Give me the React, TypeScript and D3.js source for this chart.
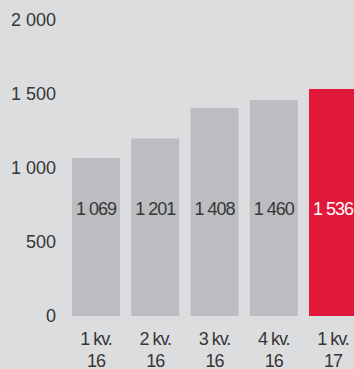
import React from "react";
import * as d3 from "d3";

const categories = ["1 kv. 16", "2 kv. 16", "3 kv. 16", "4 kv. 16", "1 kv. 17"];
const catLine1 = ["1 kv.", "2 kv.", "3 kv.", "4 kv.", "1 kv."];
const catLine2 = ["16", "16", "16", "16", "17"];
const values = [1069, 1201, 1408, 1460, 1536];
const valueLabels = ["1 069", "1 201", "1 408", "1 460", "1 536"];
const yTicks = [0, 500, 1000, 1500, 2000];
const yTickLabels = ["0", "500", "1 000", "1 500", "2 000"];
const highlight = [false, false, false, false, true];

const W = 354;
const H = 369;
const BG = "#dcdddf";
const GRAY = "#bcbdc0";
const RED = "#e1183a";
const TEXT = "#363636";
const FONT = "'Liberation Sans', Arial, Helvetica, sans-serif";

export default function App() {
  const y = d3.scaleLinear().domain([0, 2000]).range([316, 20.4]);
  const x = d3
    .scaleBand<string>()
    .domain(categories)
    .range([72, 357])
    .paddingInner(0.19)
    .paddingOuter(0);

  return (
    <svg
      width={W}
      height={H}
      style={{ position: "absolute", left: 0, top: 0, background: BG, display: "block" }}
      fontFamily={FONT}
    >
      <rect x={0} y={0} width={W} height={H} fill={BG} />
      {yTicks.map((t, i) => (
        <text
          key={"yt" + i}
          x={56}
          y={y(t)}
          textAnchor="end"
          dominantBaseline="central"
          fontSize={18}
          fill={TEXT}
        >
          {yTickLabels[i]}
        </text>
      ))}
      {categories.map((c, i) => {
        const bx = x(c) as number;
        const bw = x.bandwidth();
        return (
          <g key={"b" + i}>
            <rect
              x={bx}
              y={y(values[i])}
              width={bw}
              height={y(0) - y(values[i])}
              fill={highlight[i] ? RED : GRAY}
            />
            <text
              x={bx + bw / 2}
              y={208.5}
              textAnchor="middle"
              dominantBaseline="central"
              fontSize={18}
              letterSpacing={-1}
              fill={highlight[i] ? "#ffffff" : TEXT}
            >
              {valueLabels[i]}
            </text>
            <text
              x={bx + bw / 2}
              y={338.5}
              textAnchor="middle"
              dominantBaseline="central"
              fontSize={18}
              letterSpacing={-1}
              fill={TEXT}
            >
              {catLine1[i]}
            </text>
            <text
              x={bx + bw / 2}
              y={361}
              textAnchor="middle"
              dominantBaseline="central"
              fontSize={18}
              letterSpacing={-1}
              fill={TEXT}
            >
              {catLine2[i]}
            </text>
          </g>
        );
      })}
    </svg>
  );
}
